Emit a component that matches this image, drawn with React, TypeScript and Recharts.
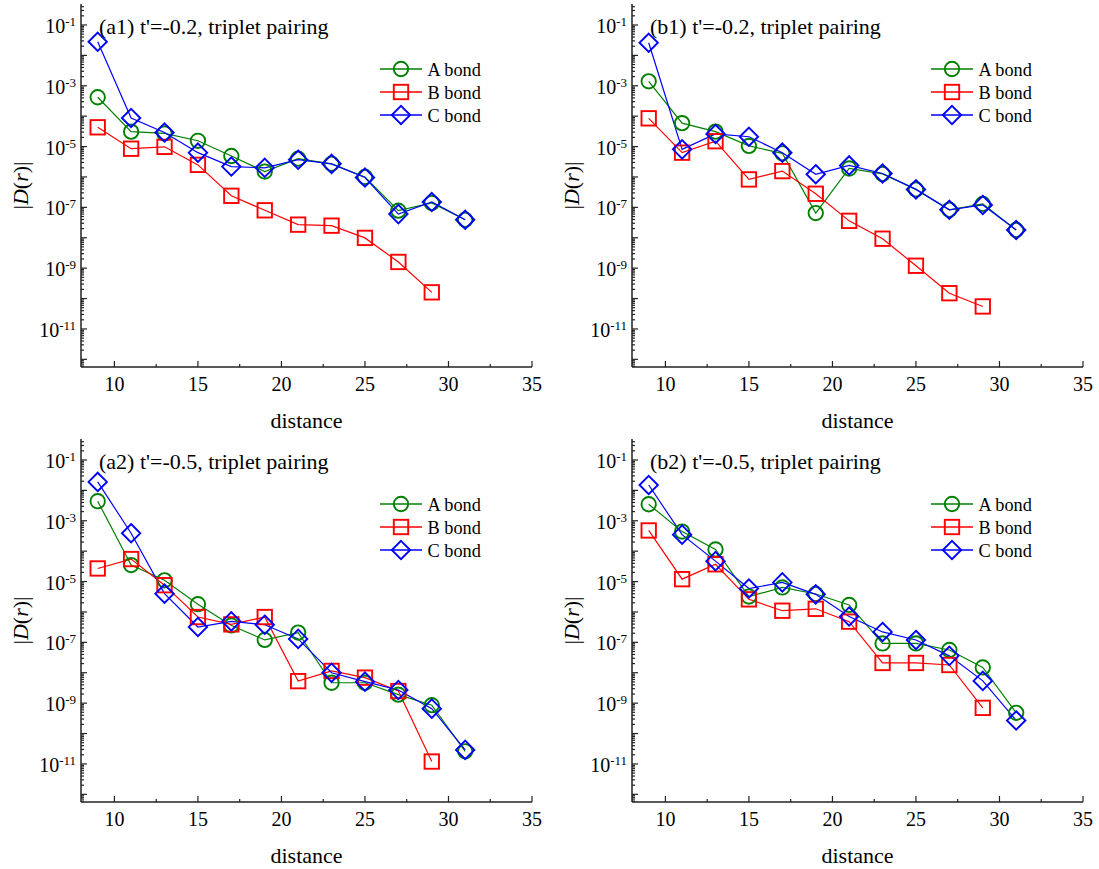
import { LineChart, Line, XAxis, YAxis, Legend } from "recharts";

const FONT = "'Liberation Serif', 'Times New Roman', serif";

const distances = [9, 11, 13, 15, 17, 19, 21, 23, 25, 27, 29, 31];

// (a1) t'=-0.2
const a1A = [4.2e-4, 3.1e-5, 2.7e-5, 1.55e-5, 4.9e-6, 1.5e-6, 4.0e-6, 2.7e-6, 1.0e-6, 7.8e-8, 1.4e-7, 3.9e-8];
const a1B = [4.3e-5, 8.5e-6, 9.8e-6, 2.5e-6, 2.4e-7, 8e-8, 2.7e-8, 2.5e-8, 9.9e-9, 1.6e-9, 1.6e-10];
const a1C = [2.8e-2, 8.7e-5, 2.9e-5, 6.3e-6, 2.2e-6, 2.0e-6, 3.7e-6, 2.7e-6, 9.6e-7, 6.0e-8, 1.5e-7, 3.9e-8];

// (b1) t'=-0.2
const b1A = [1.4e-3, 5.9e-5, 3.1e-5, 1.05e-5, 6.0e-6, 6.5e-8, 1.9e-6, 1.26e-6, 3.9e-7, 8.3e-8, 1.3e-7, 1.8e-8];
const b1B = [8.5e-5, 6.3e-6, 1.5e-5, 8.3e-7, 1.56e-6, 2.8e-7, 3.6e-8, 9.3e-9, 1.2e-9, 1.5e-10, 5.5e-11];
const b1C = [2.6e-2, 8.1e-6, 2.6e-5, 2.1e-5, 6.3e-6, 1.23e-6, 2.4e-6, 1.3e-6, 3.9e-7, 8.3e-8, 1.2e-7, 1.8e-8];

// (a2) t'=-0.5
const a2A = [4.4e-3, 3.5e-5, 1.1e-5, 1.8e-6, 3.6e-7, 1.2e-7, 2.1e-7, 4.7e-9, 4.7e-9, 1.9e-9, 8.6e-10, 2.6e-11];
const a2B = [2.7e-5, 5.5e-5, 7.6e-6, 6.8e-7, 3.9e-7, 6.8e-7, 5.3e-9, 1.15e-8, 6.9e-9, 2.5e-9, 1.2e-11];
const a2C = [1.9e-2, 3.9e-4, 4.0e-6, 3.2e-7, 4.9e-7, 3.8e-7, 1.3e-7, 1.0e-8, 5.1e-9, 2.7e-9, 6.6e-10, 2.9e-11];

// (b2) t'=-0.5
const b2A = [3.5e-3, 4.4e-4, 1.14e-4, 3.2e-6, 6.4e-6, 3.9e-6, 1.7e-6, 9.2e-8, 9.2e-8, 5.6e-8, 1.5e-8, 4.8e-10];
const b2B = [4.8e-4, 1.2e-5, 3.7e-5, 2.6e-6, 1.1e-6, 1.27e-6, 4.8e-7, 2.1e-8, 2.1e-8, 1.8e-8, 7.0e-10];
const b2C = [1.5e-2, 3.5e-4, 4.7e-5, 5.9e-6, 9.4e-6, 3.8e-6, 7.1e-7, 2.2e-7, 1.2e-7, 3.6e-8, 5.4e-9, 2.7e-10];

const xTicks = [10, 12.5, 15, 17.5, 20, 22.5, 25, 27.5, 30, 32.5, 35];
const xMajor = [10, 15, 20, 25, 30, 35];
const decades = [-13, -12, -11, -10, -9, -8, -7, -6, -5, -4, -3, -2, -1];
const minorMults = [1, 2, 3, 4, 5, 6, 7, 8, 9];

const Y_MIN = 5.6e-13;
const Y_MAX = 0.49;

const yTicks: number[] = [];
decades.forEach((e) =>
  minorMults.forEach((m) => {
    const v = m * Math.pow(10, e);
    if (v >= Y_MIN && v <= Y_MAX) yTicks.push(v);
  }),
);

const seriesStyle = [
  { key: "A", name: "A bond", color: "#008000", shape: "circle" },
  { key: "B", name: "B bond", color: "#ff0000", shape: "square" },
  { key: "C", name: "C bond", color: "#0000ff", shape: "diamond" },
];

const panels = [
  { title: "(a1) t'=-0.2, triplet pairing", A: a1A, B: a1B, C: a1C, left: 0, top: 0 },
  { title: "(b1) t'=-0.2, triplet pairing", A: b1A, B: b1B, C: b1C, left: 551, top: 0 },
  { title: "(a2) t'=-0.5, triplet pairing", A: a2A, B: a2B, C: a2C, left: 0, top: 435 },
  { title: "(b2) t'=-0.5, triplet pairing", A: b2A, B: b2B, C: b2C, left: 551, top: 435 },
];

const W = 544;
const H = 435;
const AXIS = "#222";

function Marker({ shape, cx, cy, color }: any) {
  if (cx == null || cy == null || isNaN(cy)) return null;
  const s = { fill: "none", stroke: color, strokeWidth: 1.9 };
  if (shape === "circle") return <circle cx={cx} cy={cy} r={7.2} {...s} />;
  if (shape === "square")
    return <rect x={cx - 7.2} y={cy - 7.2} width={14.4} height={14.4} {...s} />;
  return (
    <polygon
      points={`${cx},${cy - 9.2} ${cx + 9.2},${cy} ${cx},${cy + 9.2} ${cx - 9.2},${cy}`}
      {...s}
    />
  );
}

function YTick({ x, y, payload, side }: any) {
  const lg = Math.log10(payload.value);
  const e = Math.round(lg);
  const major = Math.abs(lg - e) < 1e-6;
  const len = major ? 6 : 3;
  const dir = side === "left" ? 1 : -1;
  return (
    <g>
      <line x1={x} x2={x + dir * len} y1={y} y2={y} stroke={AXIS} strokeWidth={1.2} />
      {side === "left" && major && e % 2 !== 0 && (
        <text x={x - 5} y={y + 8} textAnchor="end" fontFamily={FONT} fontSize={20} fill="#000">
          10
          <tspan dy={-7} fontSize={13}>
            {`${e}`}
          </tspan>
        </text>
      )}
    </g>
  );
}

function XTick({ x, y, payload }: any) {
  const major = xMajor.includes(payload.value);
  return (
    <g>
      <line x1={x} x2={x} y1={y} y2={y - (major ? 6 : 3)} stroke={AXIS} strokeWidth={1.2} />
      {major && (
        <text x={x} y={y + 24} textAnchor="middle" fontFamily={FONT} fontSize={20} fill="#000">
          {payload.value}
        </text>
      )}
    </g>
  );
}

function LegendBox({ payload }: any) {
  const items = payload ?? [];
  return (
    <svg width={120} height={70} style={{ overflow: "visible" }}>
      {items.map((it: any, i: number) => {
        const st = seriesStyle.find((s) => s.key === it.dataKey) ?? seriesStyle[i];
        return (
          <g key={st.key} transform={`translate(0, ${11 + i * 23})`}>
            <line x1={0} x2={42} y1={0} y2={0} stroke={st.color} strokeWidth={1.3} />
            <Marker shape={st.shape} cx={21} cy={0} color={st.color} />
            <text x={47.5} y={6.5} fontFamily={FONT} fontSize={18.3} fill="#000">
              {st.name}
            </text>
          </g>
        );
      })}
    </svg>
  );
}

function Panel({ panel }: any) {
  const rows = distances.map((d, i) => ({
    d,
    A: panel.A[i] ?? null,
    B: panel.B[i] ?? null,
    C: panel.C[i] ?? null,
  }));

  return (
    <div style={{ position: "absolute", left: panel.left, top: panel.top, width: W, height: H }}>
      <LineChart width={W} height={H} data={rows} margin={{ top: 4, right: 12, bottom: 0, left: 0 }}>
        <XAxis
          dataKey="d"
          type="number"
          domain={[8, 35]}
          ticks={xTicks}
          interval={0}
          height={68}
          tickSize={0}
          tickMargin={0}
          tickLine={false}
          tick={<XTick />}
          axisLine={{ stroke: AXIS, strokeWidth: 1.5 }}
          allowDataOverflow
          label={(p: any) => {
            const vb = p?.viewBox ?? { x: 81, y: 367, width: 451, height: 68 };
            return (
              <text x={vb.x + vb.width / 2} y={vb.y + 61} textAnchor="middle" fontFamily={FONT} fontSize={22} fill="#000">
                distance
              </text>
            );
          }}
        />
        <XAxis
          xAxisId="top"
          orientation="top"
          dataKey="d"
          type="number"
          domain={[8, 35]}
          height={0}
          tick={false}
          tickLine={false}
          axisLine={{ stroke: AXIS, strokeWidth: 1.5 }}
          allowDataOverflow
        />
        <YAxis
          type="number"
          scale="log"
          domain={[Y_MIN, Y_MAX]}
          allowDataOverflow
          ticks={yTicks}
          interval={0}
          width={81}
          tickSize={0}
          tickMargin={0}
          tickLine={false}
          tick={<YTick side="left" />}
          axisLine={{ stroke: AXIS, strokeWidth: 1.5 }}
          label={(p: any) => {
            const vb = p?.viewBox ?? { x: 0, y: 4, width: 81, height: 363 };
            const cx = vb.x + 20;
            const cy = vb.y + vb.height / 2;
            return (
              <text
                x={cx}
                y={cy}
                transform={`rotate(-90, ${cx}, ${cy})`}
                textAnchor="middle"
                dominantBaseline="central"
                fontFamily={FONT}
                fontSize={22}
                fill="#000"
              >
                |<tspan fontStyle="italic">D</tspan>(<tspan fontStyle="italic">r</tspan>)|
              </text>
            );
          }}
        />
        <YAxis
          yAxisId="right"
          orientation="right"
          type="number"
          scale="log"
          domain={[Y_MIN, Y_MAX]}
          allowDataOverflow
          ticks={yTicks}
          interval={0}
          width={0}
          tickSize={0}
          tickMargin={0}
          tickLine={false}
          tick={<YTick side="right" />}
          axisLine={{ stroke: AXIS, strokeWidth: 1.5 }}
        />
        <Legend
          layout="vertical"
          align="center"
          verticalAlign="middle"
          content={<LegendBox />}
          wrapperStyle={{ left: 380, top: 58, width: 130, height: 70 }}
        />
        {seriesStyle.map((s) => (
          <Line
            key={s.key}
            dataKey={s.key}
            name={s.name}
            type="linear"
            stroke={s.color}
            strokeWidth={1.2}
            isAnimationActive={false}
            activeDot={false}
            dot={(p: any) => <Marker key={`${s.key}-${p.index}`} shape={s.shape} cx={p.cx} cy={p.cy} color={s.color} />}
          />
        ))}
      </LineChart>
      <div
        style={{
          position: "absolute",
          left: 99,
          top: 16,
          fontFamily: FONT,
          fontSize: 22,
          lineHeight: "22px",
          whiteSpace: "nowrap",
          color: "#000",
        }}
      >
        {panel.title}
      </div>
    </div>
  );
}

export default function App() {
  return (
    <div style={{ position: "absolute", left: 0, top: 0, width: 1099, height: 869, background: "#fff" }}>
      {panels.map((p) => (
        <Panel key={p.title} panel={p} />
      ))}
    </div>
  );
}
